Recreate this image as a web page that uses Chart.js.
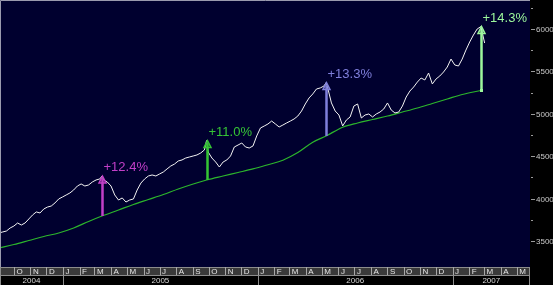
<!DOCTYPE html>
<html><head><meta charset="utf-8">
<script src="https://cdn.jsdelivr.net/npm/chart.js@4.4.0/dist/chart.umd.min.js"></script>
<style>html,body{margin:0;padding:0;background:#000;}canvas{display:block;}</style>
</head><body>
<canvas id="c" width="553" height="285"></canvas>
<script>
// ---- data ----
const priceDates = [
'2004-09-03','2004-09-10','2004-09-17','2004-09-24','2004-10-01','2004-10-08','2004-10-15','2004-10-22','2004-10-29',
'2004-11-05','2004-11-12','2004-11-19','2004-11-26','2004-12-03','2004-12-10','2004-12-17','2004-12-24','2004-12-31',
'2005-01-07','2005-01-14','2005-01-21','2005-01-28','2005-02-04','2005-02-11','2005-02-18','2005-02-25','2005-03-04',
'2005-03-11','2005-03-15','2005-03-18','2005-03-25','2005-04-01','2005-04-08','2005-04-15','2005-04-22','2005-04-29',
'2005-05-06','2005-05-13','2005-05-20','2005-05-27','2005-06-03','2005-06-10','2005-06-17','2005-06-24','2005-07-01',
'2005-07-08','2005-07-15','2005-07-22','2005-07-29','2005-08-05','2005-08-12','2005-08-19','2005-08-26','2005-09-02',
'2005-09-09','2005-09-16','2005-09-23','2005-09-27','2005-09-30','2005-10-07','2005-10-14','2005-10-21','2005-10-28',
'2005-11-04','2005-11-11','2005-11-18','2005-11-25','2005-12-02','2005-12-09','2005-12-16','2005-12-23','2005-12-30',
'2006-01-06','2006-01-13','2006-01-20','2006-01-27','2006-02-03','2006-02-10','2006-02-17','2006-02-24','2006-03-03',
'2006-03-10','2006-03-17','2006-03-24','2006-03-31','2006-04-07','2006-04-14','2006-04-21','2006-04-28','2006-05-05',
'2006-05-09','2006-05-12','2006-05-19','2006-05-26','2006-06-02','2006-06-09','2006-06-16','2006-06-23','2006-06-30',
'2006-07-07','2006-07-14','2006-07-21','2006-07-28','2006-08-04','2006-08-11','2006-08-18','2006-08-25','2006-09-01',
'2006-09-08','2006-09-15','2006-09-22','2006-09-29','2006-10-06','2006-10-13','2006-10-20','2006-10-27','2006-11-03',
'2006-11-10','2006-11-17','2006-11-24','2006-12-01','2006-12-08','2006-12-15','2006-12-22','2006-12-29','2007-01-05',
'2007-01-12','2007-01-19','2007-01-26','2007-02-02','2007-02-09','2007-02-16','2007-02-23','2007-03-02'];
const priceValues = [
3595,3607,3618,3654,3677,3713,3689,3713,3760,
3807,3843,3831,3878,3901,3913,3949,3996,4019,
4043,4067,4102,4149,4173,4149,4161,4196,4220,
4232,4266,4220,4196,4149,4043,3984,4008,3960,
3984,3996,4102,4184,4232,4267,4279,4267,4291,
4314,4350,4385,4408,4444,4456,4479,4491,4503,
4515,4538,4574,4684,4550,4479,4432,4373,4432,
4456,4503,4609,4632,4656,4609,4597,4621,4739,
4833,4856,4880,4915,4880,4845,4868,4892,4915,
4939,4974,5033,5116,5187,5234,5293,5305,5328,
5368,5305,5128,5033,4986,4857,4927,4963,5092,
5116,4951,4986,4998,4963,4998,5021,5057,5128,
5045,5010,5021,5092,5198,5269,5316,5375,5422,
5399,5481,5352,5411,5446,5493,5552,5646,5576,
5564,5646,5752,5847,5929,6000,6029,5835];

const maDates = [
'2004-09-03','2004-10-01','2004-10-29','2004-11-26','2004-12-24','2005-01-21','2005-02-18','2005-03-15',
'2005-04-15','2005-05-13','2005-06-10','2005-07-08','2005-08-05','2005-09-02','2005-09-27','2005-10-28',
'2005-11-25','2005-12-23','2006-01-20','2006-02-17','2006-03-17','2006-04-14','2006-05-09','2006-06-09',
'2006-07-07','2006-08-04','2006-09-01','2006-09-29','2006-10-27','2006-11-24','2006-12-22','2007-01-19','2007-02-23'];
const maValues = [
3418,3459,3506,3554,3595,3654,3731,3795,
3866,3931,3990,4049,4114,4173,4220,4267,
4308,4350,4400,4453,4543,4665,4739,4842,
4892,4933,4974,5021,5069,5122,5175,5228,5275];

const arrowDates  = ['2005-03-15','2005-09-27','2006-05-09','2007-02-23'];
const arrowLow    = [3795,4220,4739,5275];
const arrowHigh   = [4266,4684,5368,6029];
const arrowLabels = ['+12.4%','+11.0%','+13.3%','+14.3%'];

const yTicks = [3500,4000,4500,5000,5500,6000];
const monthLetters = ['J','F','M','A','M','J','J','A','S','O','N','D'];
const axisStart = '2004-09-05';
const axisEnd   = '2007-05-26';
const yMin = 3194, yMax = 6342;

// ---- styles ----
const arrowColors = ['#c23fc8','#35c435','#7f7fdc','#9cf79c'];
const NAVY = '#00002f';

function toDay(s){const p=s.split('-').map(Number);return Date.UTC(p[0],p[1]-1,p[2])/86400000;}

const decor = {
  id:'decor',
  beforeDraw(chart){
    const c=chart.ctx, a=chart.chartArea;
    c.save();
    c.fillStyle='#000'; c.fillRect(0,0,chart.width,chart.height);
    c.fillStyle=NAVY; c.fillRect(a.left,a.top,a.right-a.left,a.bottom-a.top);
    c.restore();
  },
  afterDatasetsDraw(chart){
    const c=chart.ctx, a=chart.chartArea, xs=chart.scales.x, ys=chart.scales.y;
    c.save();
    // arrows
    arrowDates.forEach((d,i)=>{
      const x=Math.round(xs.getPixelForValue(toDay(d)))+0.5;
      const yl=ys.getPixelForValue(arrowLow[i]);
      const yh=ys.getPixelForValue(arrowHigh[i]);
      c.strokeStyle=arrowColors[i]; c.fillStyle=arrowColors[i];
      c.lineWidth=2.5;
      c.beginPath(); c.moveTo(x,yl); c.lineTo(x,yh+3); c.stroke();
      c.lineWidth=1.5;
      c.beginPath(); c.moveTo(x,yh); c.lineTo(x-3.5,yh+7); c.lineTo(x+3.5,yh+7); c.closePath(); c.stroke();
      if(i===arrowDates.length-1){ c.fillRect(x-1.5,yl-1.5,3,3); }
      c.font='13px "Liberation Sans", Arial, sans-serif';
      c.textBaseline='alphabetic'; c.textAlign='left';
      c.fillText(arrowLabels[i], x+1, yh-5);
    });
    // plot border (top / left)
    c.strokeStyle='#9a9aae'; c.lineWidth=1;
    c.beginPath(); c.moveTo(a.left+0.5,a.bottom); c.lineTo(a.left+0.5,a.top+0.5); c.lineTo(a.right,a.top+0.5); c.stroke();
    // right axis ticks and labels
    c.font='8px "Liberation Sans", Arial, sans-serif';
    c.fillStyle='#c8c8c8'; c.strokeStyle='#9a9a9a'; c.textBaseline='middle'; c.textAlign='left';
    yTicks.forEach(v=>{
      const y=Math.round(ys.getPixelForValue(v))+0.5;
      c.beginPath(); c.moveTo(a.right+1,y); c.lineTo(a.right+5,y); c.stroke();
      c.fillText(String(v), a.right+6, y);
      const ym=Math.round(ys.getPixelForValue(v+250))+0.5;
      if(ym>a.top+2){ c.beginPath(); c.moveTo(a.right+1,ym); c.lineTo(a.right+3,ym); c.stroke(); }
    });
    // month row + year row
    const mTop=a.bottom, mBot=a.bottom+8, yBot=chart.height;
    c.fillStyle='#3a3a3a'; c.fillRect(a.left,mTop,a.right-a.left,mBot-mTop);
    c.fillStyle='#000'; c.fillRect(a.left,mBot,a.right-a.left,yBot-mBot);
    c.strokeStyle='#8c8c8c';
    c.beginPath(); c.moveTo(a.left,mTop+0.5); c.lineTo(a.right,mTop+0.5); c.stroke();
    c.beginPath(); c.moveTo(a.left,mBot+0.5); c.lineTo(a.right,mBot+0.5); c.stroke();
    c.beginPath(); c.moveTo(a.left+0.5,mTop); c.lineTo(a.left+0.5,yBot); c.stroke();
    c.beginPath(); c.moveTo(a.right-0.5,mTop); c.lineTo(a.right-0.5,yBot); c.stroke();
    const startDay=toDay(axisStart);
    const s=new Date(startDay*86400000), e=toDay(axisEnd);
    let yy=s.getUTCFullYear(), mm=s.getUTCMonth();
    c.font='8px "Liberation Sans", Arial, sans-serif'; c.textBaseline='middle';
    while(true){
      const d0=Date.UTC(yy,mm,1)/86400000;
      if(d0>e) break;
      const d1=Date.UTC(yy,mm+1,1)/86400000;
      const p0=Math.max(a.left,xs.getPixelForValue(d0));
      const p1=Math.min(a.right,xs.getPixelForValue(d1));
      if(d0>=startDay){
        const px=Math.round(p0)+0.5;
        c.strokeStyle='#a8a8a8';
        c.beginPath(); c.moveTo(px,mTop); c.lineTo(px,mBot); c.stroke();
        if(mm===0){ c.strokeStyle='#8c8c8c'; c.beginPath(); c.moveTo(px,mBot); c.lineTo(px,yBot); c.stroke(); }
        if(p1-p0>=10){ c.fillStyle='#e6e6e6'; c.textAlign='left'; c.fillText(monthLetters[mm], p0+2.5, mTop+4.5); }
      }
      mm++; if(mm>11){mm=0;yy++;}
    }
    for(let y=s.getUTCFullYear(); y<=new Date(e*86400000).getUTCFullYear(); y++){
      const p0=Math.max(a.left,xs.getPixelForValue(Date.UTC(y,0,1)/86400000));
      const p1=Math.min(a.right,xs.getPixelForValue(Date.UTC(y+1,0,1)/86400000));
      c.fillStyle='#d8d8d8'; c.textAlign='center';
      c.fillText(String(y),(p0+p1)/2, mBot+5.5);
    }
    c.restore();
  }
};

new Chart(document.getElementById('c').getContext('2d'),{
  type:'line',
  data:{datasets:[
    {data:priceDates.map((d,i)=>({x:toDay(d),y:priceValues[i]})),borderColor:'#f2f2f2',borderWidth:1,pointRadius:0,tension:0},
    {data:maDates.map((d,i)=>({x:toDay(d),y:maValues[i]})),borderColor:'#2cb62c',borderWidth:1.2,pointRadius:0,cubicInterpolationMode:'monotone'}
  ]},
  options:{
    responsive:false, animation:false, devicePixelRatio:1,
    layout:{padding:{left:0,top:0,right:23,bottom:18}},
    plugins:{legend:{display:false},tooltip:{enabled:false}},
    scales:{
      x:{type:'linear',min:toDay(axisStart),max:toDay(axisEnd),display:false},
      y:{min:yMin,max:yMax,display:false}
    }
  },
  plugins:[decor]
});
</script>
</body></html>
